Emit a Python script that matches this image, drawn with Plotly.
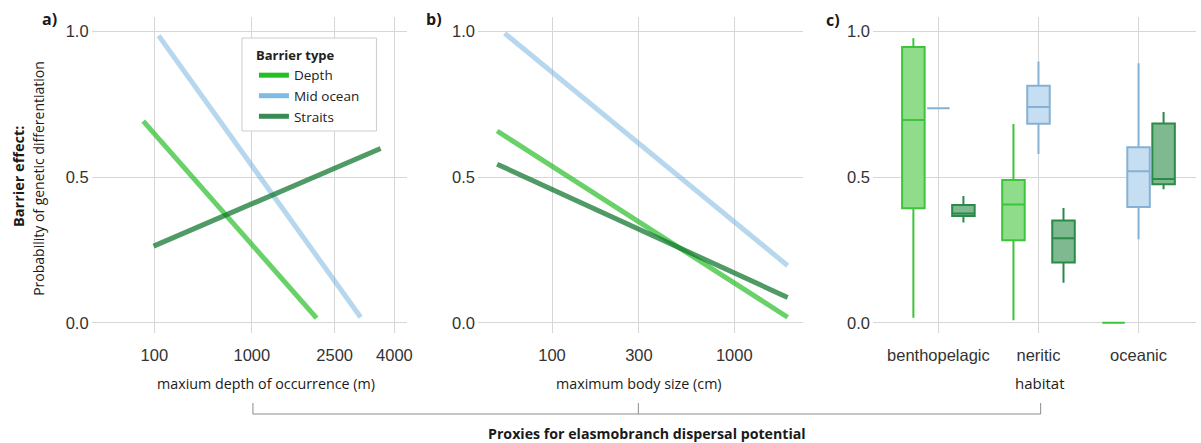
import math
import plotly.graph_objects as go

W, H = 1201, 443

# ---- data -------------------------------------------------------------
barriers = ["Depth", "Mid ocean", "Straits"]

# a) fitted barrier effect vs maximum depth of occurrence (m)
depth_m = [[57, 2115], [120, 3109], [97, 3621]]
depth_effect = [[0.692, 0.016], [0.985, 0.019], [0.263, 0.598]]
depth_ticks = [100, 1000, 2500, 4000]

# b) fitted barrier effect vs maximum body size (cm)
body_cm = [[50, 1963], [55, 1963], [50, 1963]]
body_effect = [[0.658, 0.019], [0.993, 0.196], [0.544, 0.087]]
body_ticks = [100, 300, 1000]

# c) barrier effect by habitat
habitats = ["benthopelagic", "neritic", "oceanic"]
box_low = [[0.017, 0.009, 0.0], [0.736, 0.579, 0.287], [0.344, 0.137, 0.458]]
box_q1 = [[0.393, 0.283, 0.0], [0.736, 0.683, 0.397], [0.366, 0.207, 0.475]]
box_med = [[0.696, 0.406, 0.0], [0.736, 0.740, 0.520], [0.375, 0.290, 0.493]]
box_q3 = [[0.946, 0.490, 0.0], [0.736, 0.813, 0.602], [0.404, 0.351, 0.684]]
box_high = [[0.976, 0.682, 0.0], [0.736, 0.896, 0.890], [0.435, 0.394, 0.723]]

# ---- styling ----------------------------------------------------------
line_colors = ["rgba(40,190,40,0.7)", "rgba(110,175,220,0.5)", "rgba(20,120,50,0.75)"]
legend_colors = ["#22c022", "#7cbbe2", "#3a8a55"]
box_fill = ["#8fdc8b", "#c6def1", "#7fb98f"]
box_line = ["#3cc43c", "#86b1d4", "#2a8a4a"]
grid = "#d6d6d6"
tick_font = dict(family="Liberation Sans, Arial, sans-serif", size=16.5, color="#333333")
label_family = "Open Sans, sans-serif"


def px_x(p):
    return p / W


def px_y(p):
    return 1 - p / H


fig = go.Figure()

# a) depth axis is square-root scaled
for i, b in enumerate(barriers):
    fig.add_trace(go.Scatter(
        x=[math.sqrt(v) for v in depth_m[i]], y=depth_effect[i], mode="lines",
        line=dict(color=line_colors[i], width=5), showlegend=False,
        hoverinfo="skip", xaxis="x", yaxis="y"))

# b) body size on log axis
for i, b in enumerate(barriers):
    fig.add_trace(go.Scatter(
        x=body_cm[i], y=body_effect[i], mode="lines",
        line=dict(color=line_colors[i], width=5), showlegend=False,
        hoverinfo="skip", xaxis="x2", yaxis="y2"))

# c) boxes per habitat
for i, b in enumerate(barriers):
    fig.add_trace(go.Box(
        x=habitats, lowerfence=box_low[i], q1=box_q1[i], median=box_med[i],
        q3=box_q3[i], upperfence=box_high[i], name=b,
        fillcolor=box_fill[i], line=dict(color=box_line[i], width=2),
        whiskerwidth=0, boxpoints=False, showlegend=False, hoverinfo="skip",
        xaxis="x3", yaxis="y3"))

# legend entries
for i, b in enumerate(barriers):
    fig.add_trace(go.Scatter(
        x=[None], y=[None], mode="lines", name=b,
        line=dict(color=legend_colors[i], width=5), xaxis="x", yaxis="y"))

y_dom = [px_y(333), px_y(17)]
y_common = dict(domain=y_dom, range=[-0.035, 1.049], tickvals=[0, 0.5, 1],
                tickformat=".1f", showgrid=True, gridcolor=grid, gridwidth=1,
                zeroline=False, showline=False, ticks="", tickfont=tick_font,
                ticklabelstandoff=2)
x_common = dict(showgrid=True, gridcolor=grid, gridwidth=1, zeroline=False,
                showline=False, ticks="", tickfont=tick_font,
                ticklabelstandoff=10)

fig.update_layout(
    width=W, height=H, margin=dict(l=0, r=0, t=0, b=0),
    paper_bgcolor="white", plot_bgcolor="white",
    boxmode="group", boxgap=0.25, boxgroupgap=0.1,
    xaxis=dict(domain=[px_x(92), px_x(409)], range=[-3.9, 66.1],
               tickvals=[math.sqrt(v) for v in depth_ticks],
               ticktext=[str(v) for v in depth_ticks], anchor="y", **x_common),
    yaxis=dict(anchor="x", **y_common),
    xaxis2=dict(domain=[px_x(480), px_x(806.7)], type="log", range=[1.594, 3.379],
                tickvals=body_ticks, ticktext=[str(v) for v in body_ticks],
                anchor="y2", **x_common),
    yaxis2=dict(anchor="x2", **y_common),
    xaxis3=dict(domain=[px_x(876.7), 1.0], type="category",
                categoryorder="array", categoryarray=habitats,
                range=[-0.653, 2.574], anchor="y3", **x_common),
    yaxis3=dict(anchor="x3", **y_common),
    legend=dict(x=px_x(255), y=px_y(43), xanchor="left", yanchor="top",
                bgcolor="rgba(0,0,0,0)", borderwidth=0,
                font=dict(family=label_family, size=13.5, color="#222222"),
                title=dict(text="<b>Barrier type</b>",
                           font=dict(family=label_family, size=13, color="#222222")),
                itemwidth=30, tracegroupgap=0),
)

# legend frame (covers gridlines behind the legend)
fig.add_shape(type="rect", xref="paper", yref="paper",
              x0=px_x(243), x1=px_x(378), y0=px_y(131), y1=px_y(38),
              fillcolor="white", line=dict(color="#cccccc", width=1), layer="above")


def note(text, x, y, size=14.3, angle=0, bold=False):
    fig.add_annotation(
        text=f"<b>{text}</b>" if bold else text, x=px_x(x), y=px_y(y),
        xref="paper", yref="paper", xanchor="center", yanchor="middle",
        showarrow=False, textangle=angle,
        font=dict(family=label_family, size=size, color="#1a1a1a"))


note("a)", 50, 19, size=16, bold=True)
note("b)", 436, 19, size=16, bold=True)
note("c)", 836, 20, size=16, bold=True)
note("Barrier effect:", 18, 176, size=14.5, angle=-90, bold=True)
note("Probability of genetic differentiation", 38, 178, size=14, angle=-90)
note("maxium depth of occurrence (m)", 267, 383)
note("maximum body size (cm)", 642, 383)
note("habitat", 1044, 383, size=15)
note("Proxies for elasmobranch dispersal potential", 650, 433, size=14.2, bold=True)

# bracket joining the three proxies
bracket = dict(type="line", xref="paper", yref="paper",
               line=dict(color="#8c8c8c", width=1))
fig.add_shape(x0=px_x(254), x1=px_x(1045), y0=px_y(414), y1=px_y(414), **bracket)
for bx in [254, 641, 1045]:
    fig.add_shape(x0=px_x(bx), x1=px_x(bx), y0=px_y(403), y1=px_y(414), **bracket)

fig.write_html("out.html")
